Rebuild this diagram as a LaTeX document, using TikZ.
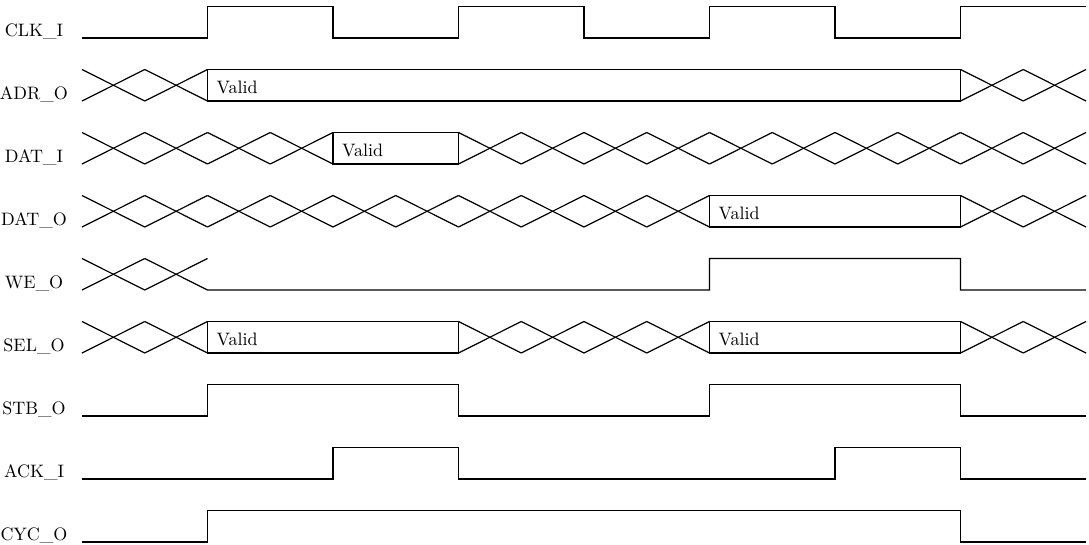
\documentclass[tikz,border=0pt]{standalone}
\newcommand\bigtxt[1]{\scalebox{1.8}{\fontsize{10}{12}\selectfont #1}}
\begin{document}
\begin{tikzpicture}[x=1pt,y=-1pt,
  sig/.style={line width=1.2pt,line join=miter},
  lbl/.style={anchor=base,inner sep=0pt},
  vtxt/.style={anchor=base west,inner sep=0pt}]
\useasboundingbox (0,0) rectangle (1089,544);
\newcommand\HX[1]{82+62.75*(#1)}
\newcommand\TP[1]{6.5+63*(#1)}
\newcommand\BT[1]{38+63*(#1)}
% crossing cells: row, first cell, last cell
\newcommand\tdcross[3]{%
  \foreach \k in {#2,...,#3}{%
    \draw[sig] ({\HX{\k}},{\TP{#1}}) -- ({\HX{\k+1}},{\BT{#1}});
    \draw[sig] ({\HX{\k}},{\BT{#1}}) -- ({\HX{\k+1}},{\TP{#1}});
  }}
% valid box: row, from, to, name
\newcommand\tdvalid[4]{%
  \draw[sig] ({\HX{#2}},{\TP{#1}}) rectangle ({\HX{#3}},{\BT{#1}});
  \node[vtxt] (#4) at ({\HX{#2}+9},{\BT{#1}-8}) {\bigtxt{Valid}};}
% labels
\foreach \n/\t [count=\i from 0] in {clk/CLK\_I,adr/ADR\_O,dati/DAT\_I,dato/DAT\_O,we/WE\_O,sel/SEL\_O,stb/STB\_O,ack/ACK\_I,cyc/CYC\_O}{
  \node[lbl] (l\n) at (34,{\BT{\i}-2}) {\bigtxt{\t}};
}
% CLK_I
\draw[sig] ({\HX{0}},{\BT{0}}) -- ({\HX{2}},{\BT{0}}) -- ({\HX{2}},{\TP{0}}) -- ({\HX{4}},{\TP{0}})
  -- ({\HX{4}},{\BT{0}}) -- ({\HX{6}},{\BT{0}}) -- ({\HX{6}},{\TP{0}}) -- ({\HX{8}},{\TP{0}})
  -- ({\HX{8}},{\BT{0}}) -- ({\HX{10}},{\BT{0}}) -- ({\HX{10}},{\TP{0}}) -- ({\HX{12}},{\TP{0}})
  -- ({\HX{12}},{\BT{0}}) -- ({\HX{14}},{\BT{0}}) -- ({\HX{14}},{\TP{0}}) -- ({\HX{16}},{\TP{0}});
% ADR_O
\tdcross{1}{0}{1}
\tdvalid{1}{2}{14}{vadr}
\tdcross{1}{14}{15}
% DAT_I
\tdcross{2}{0}{3}
\tdvalid{2}{4}{6}{vdati}
\tdcross{2}{6}{15}
% DAT_O
\tdcross{3}{0}{9}
\tdvalid{3}{10}{14}{vdato}
\tdcross{3}{14}{15}
% WE_O
\tdcross{4}{0}{0}
\draw[sig] ({\HX{1}},{\BT{4}}) -- ({\HX{2}},{\TP{4}});
\draw[sig] ({\HX{1}},{\TP{4}}) -- ({\HX{2}},{\BT{4}}) -- ({\HX{10}},{\BT{4}}) -- ({\HX{10}},{\TP{4}})
  -- ({\HX{14}},{\TP{4}}) -- ({\HX{14}},{\BT{4}}) -- ({\HX{16}},{\BT{4}});
% SEL_O
\tdcross{5}{0}{1}
\tdvalid{5}{2}{6}{vsel1}
\tdcross{5}{6}{9}
\tdvalid{5}{10}{14}{vsel2}
\tdcross{5}{14}{15}
% STB_O
\draw[sig] ({\HX{0}},{\BT{6}}) -- ({\HX{2}},{\BT{6}}) -- ({\HX{2}},{\TP{6}}) -- ({\HX{6}},{\TP{6}})
  -- ({\HX{6}},{\BT{6}}) -- ({\HX{10}},{\BT{6}}) -- ({\HX{10}},{\TP{6}}) -- ({\HX{14}},{\TP{6}})
  -- ({\HX{14}},{\BT{6}}) -- ({\HX{16}},{\BT{6}});
% ACK_I
\draw[sig] ({\HX{0}},{\BT{7}}) -- ({\HX{4}},{\BT{7}}) -- ({\HX{4}},{\TP{7}}) -- ({\HX{6}},{\TP{7}})
  -- ({\HX{6}},{\BT{7}}) -- ({\HX{12}},{\BT{7}}) -- ({\HX{12}},{\TP{7}}) -- ({\HX{14}},{\TP{7}})
  -- ({\HX{14}},{\BT{7}}) -- ({\HX{16}},{\BT{7}});
% CYC_O
\draw[sig] ({\HX{0}},{\BT{8}}) -- ({\HX{2}},{\BT{8}}) -- ({\HX{2}},{\TP{8}}) -- ({\HX{14}},{\TP{8}})
  -- ({\HX{14}},{\BT{8}}) -- ({\HX{16}},{\BT{8}});
\end{tikzpicture}
\end{document}
